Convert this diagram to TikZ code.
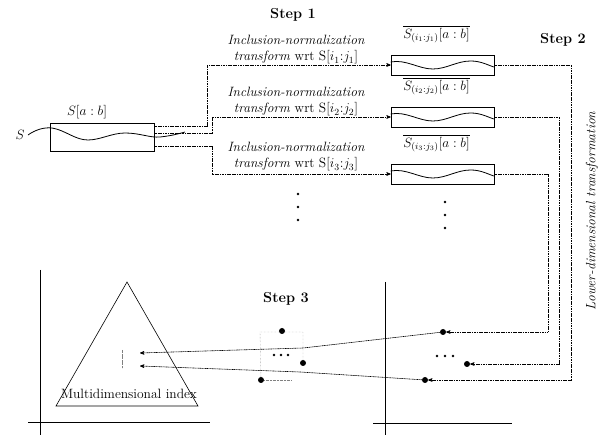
\documentclass[tikz,border=0pt]{standalone}
\usepackage{fix-cm}
\usepackage{fontspec}
\usepackage{amsmath}
\usepackage{tikz}
\usetikzlibrary{positioning,arrows}

\begin{document}
\begin{tikzpicture}[x=1pt,y=-1pt,>=stealth',font=\fontsize{13.5}{16}\selectfont,
  wbox/.style={draw,semithick,minimum width=103pt,minimum height=20pt,inner sep=0pt},
  sbox/.style={draw,semithick,minimum width=104pt,minimum height=28pt,inner sep=0pt},
  wave/.style={thick},
  conn/.style={->,dash pattern=on 1.2pt off 0.5pt,semithick},
  pnt/.style={circle,fill,inner sep=0pt,minimum size=6pt},
  steplbl/.style={font=\fontsize{14.5}{16}\selectfont\bfseries},
  axis/.style={semithick}]
  \useasboundingbox (0,0) rectangle (600,435);

  % source sequence
  \node (s) at (20,135) {$S$};
  \node[sbox] (sb) at (102,137) {};
  \node (lsb) at (87,112) {$S[a:b]$};
  \draw[wave] (s.east) .. controls (35,130) and (44,127) .. (52,128)
    .. controls (65,130) and (75,140) .. (88,140)
    .. controls (100,140) and (112,133) .. (125,133)
    .. controls (140,133) and (150,138) .. (160,137)
    .. controls (170,136) and (178,134) .. (185,132);

  % step 1
  \node[steplbl] (st1) at (293,15) {Step 1};
  \foreach \k/\y in {1/50,2/102,3/157}
    \node[align=center] (inc\k) at (296,\y)
      {{\addfontfeatures{LetterSpace=9}\itshape Inclusion-normalization}\\
       \textit{transform} wrt S[$i_\k$:$j_\k$]};
  \foreach \k/\y in {1/65,2/117,3/174} {
    \node[wbox] (b\k) at (442.5,\y) {};
    \node[above=8pt of b\k, xshift=-6pt] (lb\k) {$\overline{S_{(i_\k:j_\k)}[a:b]}$};
    \draw[wave,shift={(b\k.west)}] (0,-3) .. controls (15,-6) and (28,4) .. (42,4)
      .. controls (56,4) and (66,-4) .. (80,-4) .. controls (90,-4) and (97,0) .. (103,2);
  }
  \draw[conn] ([yshift=11pt]sb.east) -- ++(53,0) |- (b1.west);
  \draw[conn] ([yshift=4pt]sb.east) -- ++(58,0) |- (b2.west);
  \draw[conn] ([yshift=-9pt]sb.east) -- ++(58,0) |- (b3.west);
  \foreach \y in {194,207,220} \fill (298,\y) circle (1.4pt);
  \foreach \y in {202,215,228} \fill (445,\y) circle (1.4pt);

  % step 2
  \node[steplbl] (st2) at (563,40) {Step 2};
  \node[rotate=90,font=\fontsize{13.5}{16}\selectfont\itshape] (ldt) at (592,211)
    {Lower-dimensional transformation};
  \node[pnt] (p1) at (443,332) {};
  \node[pnt] (p2) at (467,364) {};
  \node[pnt] (p3) at (425,380) {};
  \foreach \x in {437,445,453} \fill (\x,356) circle (1.3pt);
  \draw[conn] (b1.east) -- ++(77,0) |- (p3);
  \draw[conn] (b2.east) -- ++(65,0) |- (p2);
  \draw[conn] (b3.east) -- ++(54,0) |- (p1);

  % step 3
  \node[steplbl] (st3) at (286,299) {Step 3};
  \node[pnt] (q1) at (282,331) {};
  \node[pnt] (q2) at (303,363) {};
  \node[pnt] (q3) at (261,380) {};
  \coordinate (c1) at (260,332);
  \coordinate (c2) at (303,332);
  \draw[densely dotted,thin,gray] (q3) -- (c1) -- (c2) -- (q2);
  \draw[densely dotted,thin,gray] (q3) -- ++(30,0);
  \foreach \x in {274,281,288} \fill (\x,355) circle (1.3pt);
  \coordinate (m1) at (303,348);
  \coordinate (m2) at (300,372);
  \coordinate (t1) at (140,353);
  \coordinate (t2) at (140,366);
  \draw[conn] (p1) -- (m1) -- (t1);
  \draw[conn] (p3) -- (m2) -- (t2);

  % index spaces
  \draw[semithick] (127,282) -- (56,406) -- (198,406) -- cycle;
  \node (mdi) at (129,394) {Multidimensional index};
  \draw[densely dotted,very thin,gray] (122,350) -- (122,368);
  \draw[axis] (40,270) -- (40,435);
  \draw[axis] (28,422) -- (210,422);
  \draw[axis] (385,282) -- (385,435);
  \draw[axis] (373,423) -- (512,423);
\end{tikzpicture}
\end{document}
